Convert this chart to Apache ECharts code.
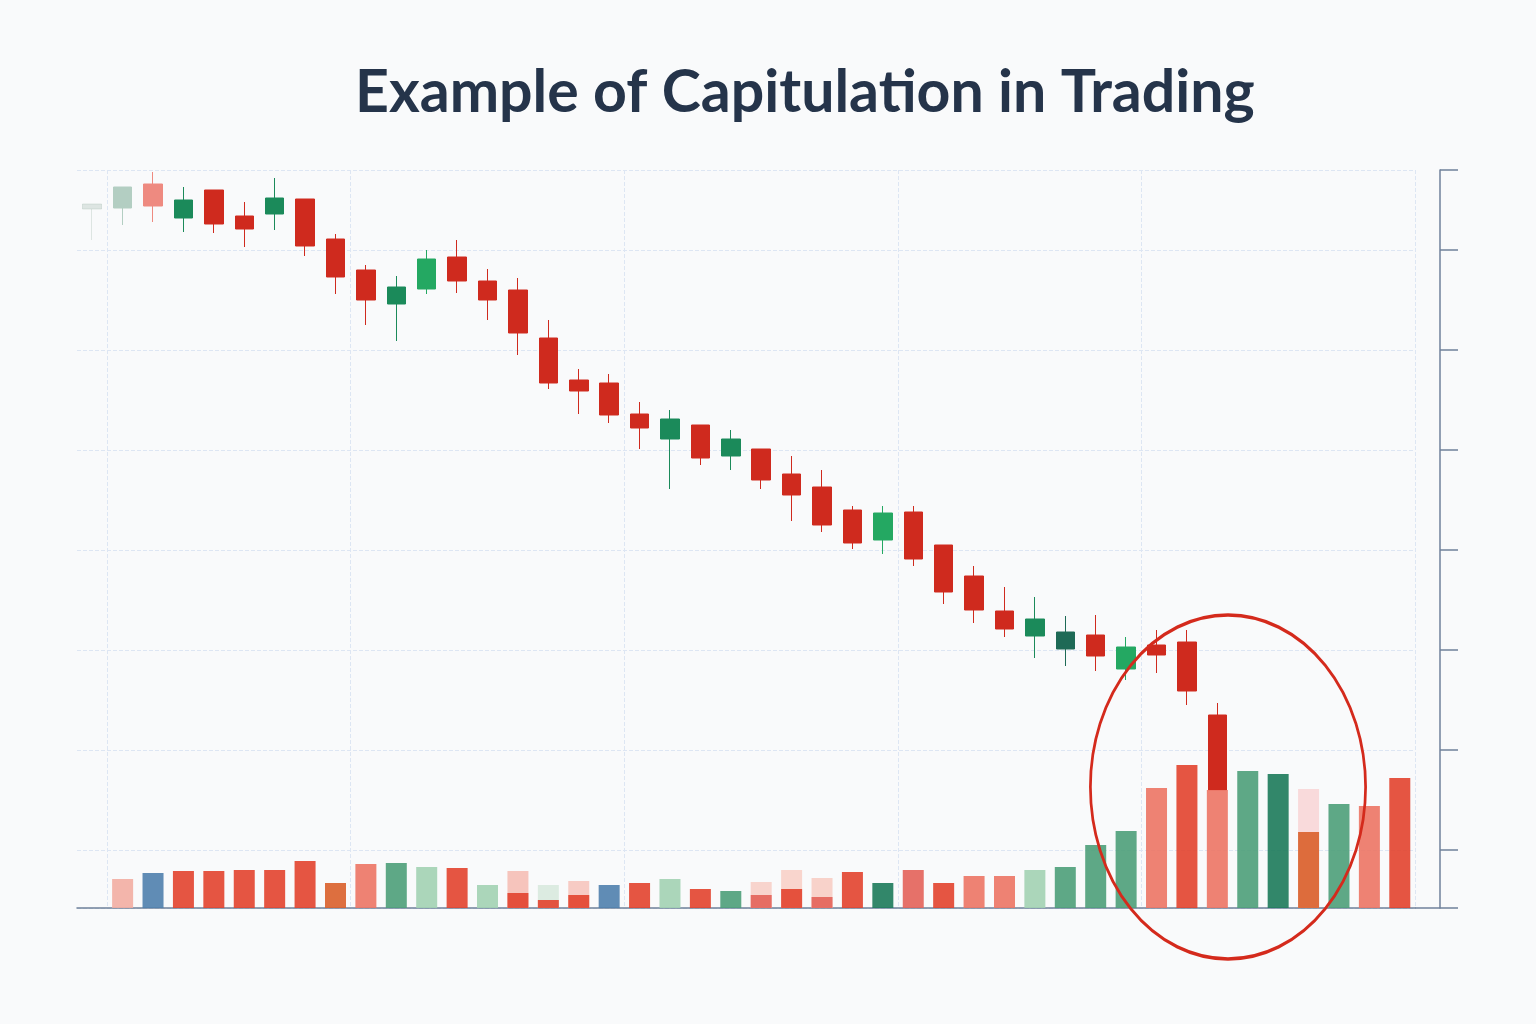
<!DOCTYPE html>
<html><head><meta charset="utf-8">
<script src="https://cdn.jsdelivr.net/npm/echarts@6/dist/echarts.min.js"></script>
<style>html,body{margin:0;background:#f9fafb}#c{width:1536px;height:1024px}</style>
</head><body><div id="c"></div>
<script>
// [open, close, low, high]
const candles = [
 [104.1,104.6,101.0,104.6],[104.2,106.3,102.5,106.3],[106.6,104.4,102.8,107.8],[103.2,105.0,101.8,106.3],
 [106.0,102.6,101.7,106.0],[103.4,102.1,100.3,104.8],[103.6,105.2,102.0,107.2],[105.1,100.4,99.4,105.1],
 [101.1,97.3,95.6,101.6],[98.0,95.0,92.5,98.5],[94.6,96.3,90.9,97.4],[96.1,99.1,95.6,100.0],
 [99.3,96.9,95.7,101.0],[96.9,95.0,93.0,98.1],[96.0,91.7,89.5,97.2],[91.2,86.7,86.1,93.0],
 [87.0,85.9,83.6,88.1],[86.7,83.5,82.7,87.6],[83.6,82.2,80.1,84.8],[81.1,83.1,76.1,84.0],
 [82.5,79.2,78.5,82.5],[79.4,81.1,78.0,82.0],[80.1,77.0,76.1,80.1],[77.6,75.5,72.9,79.4],
 [76.3,72.5,71.8,78.0],[74.0,70.7,70.1,74.4],[71.0,73.7,69.6,74.4],[73.8,69.1,68.4,74.4],
 [70.5,65.8,64.6,70.5],[67.4,64.0,62.7,68.4],[63.9,62.1,61.3,66.3],[61.4,63.1,59.2,65.3],
 [60.1,61.8,58.4,63.4],[61.5,59.4,57.9,63.5],[58.1,60.3,57.0,61.3],[60.5,59.5,57.7,62.0],
 [60.8,55.9,54.5,62.0],[53.5,46.0,46.0,54.7]
];
const candleTone = ['f','fg','pk','','','','','','','','','lg','','','','','','','','','','','','','','','lg','','','','','','dg','','lg','','',''];
const volume = [null,29,35,37,37,38,38,47,25,44,45,41,40,23,15,8,13,23,25,29,19,17,13,19,11,36,25,38,25,32,32,38,41,63,77,120,143,118,137,134,76,104,102,130];
const volumeTone = ['', 'p','b','r','r','r','r','r','o','s','g','l','r','l','r','r','r','b','r','l','r','g','k','r','k','r','d','k','r','s','s','l','g','g','g','s','r','s','g','d','o','g','s','r'];
const ghostVolume = [null,null,null,null,null,null,null,null,null,null,null,null,null,null,37,23,27,null,null,null,null,null,26,38,30,null,null,null,null,null,null,null,null,null,null,null,null,null,null,null,119,null,null,null];
const ghostTone = {14:'#f6c4bc',15:'#dcebe1',16:'#f7cbc4',22:'#f8d4cd',23:'#f9d5cd',24:'#f8d2ca',40:'#f9dadb'};
const categories = volume.map((_, i) => 'D' + (i + 1));

const volColors = {p:'#f2ada2',b:'#4f80ad',r:'#e2432e',o:'#d95f2a',s:'#ec7464',g:'#4c9f79',l:'#a2d1b2',d:'#1c7a5a',k:'#e36259'};
const toneColor = {f:'rgba(170,190,180,0.35)',fg:'#b3cec2',pk:'#ee8a80',lg:'#24a862',dg:'#1e6a56'};

const chart = echarts.init(document.getElementById('c'));
chart.setOption({
  backgroundColor:'#f9fafb',
  animation:false,
  title:{text:'Example of Capitulation in Trading',left:350,top:58,
    textStyle:{fontFamily:'Lato',fontWeight:'bold',fontSize:59,color:'#25344a'}},
  grid:{left:77,right:121,top:170,bottom:116},
  xAxis:{type:'category',data:categories,boundaryGap:true,
    axisLine:{lineStyle:{color:'#6f819b',width:1.5}},axisTick:{show:false},axisLabel:{show:false},
    splitLine:{show:true,interval:(i)=>[1,9,18,27,35].includes(i),lineStyle:{color:'#dde6f3',type:'dashed'}}},
  yAxis:[
    {type:'value',position:'right',offset:25,min:34.2,max:108,splitNumber:7,
      axisLine:{show:true,lineStyle:{color:'#6f819b',width:1.5}},
      axisTick:{show:true,length:18,lineStyle:{color:'#6f819b',width:1.5}},
      axisLabel:{show:false},
      splitLine:{lineStyle:{color:'#dde6f3',type:'dashed'}}},
    {type:'value',min:0,max:738,show:false,splitLine:{show:false}}
  ],
  series:[
    {type:'candlestick',yAxisIndex:0,barWidth:19,z:2,
      itemStyle:{color:'#1b8a5a',color0:'#cf2a1e',borderColor:'#1b8a5a',borderColor0:'#cf2a1e',borderWidth:1},
      data:candles.map((c,i)=>{
        const t=candleTone[i]; if(!t) return c;
        const col=toneColor[t];
        return {value:c,itemStyle:{color:col,color0:col,borderColor:col,borderColor0:col}};
      })},
    {type:'bar',yAxisIndex:1,barWidth:21,barGap:'-100%',z:3,silent:true,
      data:ghostVolume.map((v,i)=>v==null?null:{value:v,itemStyle:{color:ghostTone[i]}})},
    {type:'bar',yAxisIndex:1,barWidth:21,barGap:'-100%',z:4,
      itemStyle:{opacity:0.9},
      data:volume.map((v,i)=>v==null?null:{value:v,itemStyle:{color:volColors[volumeTone[i]]}})}
  ],
  graphic:[
    {type:'line',z:1,shape:{x1:1415,y1:908,x2:1440,y2:908},style:{stroke:'#6f819b',lineWidth:1.5}},
    {type:'circle',z:100,shape:{cx:0,cy:0,r:172},x:1228,y:787,scaleX:0.8,
    style:{fill:'none',stroke:'#d42a1c',lineWidth:3.4}}]
});
</script></body></html>
